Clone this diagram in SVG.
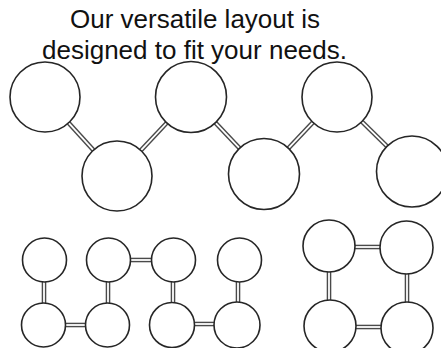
<svg xmlns="http://www.w3.org/2000/svg" width="441" height="348" viewBox="0 0 441 348">
<style>
.node{fill:#fff;stroke:#262626;stroke-width:1.6}
.lo{stroke:#4a4a4a;stroke-width:4.6;stroke-linecap:butt}
.li{stroke:#fff;stroke-width:1.8;stroke-linecap:butt}
.title{font-family:"Liberation Sans",Arial,sans-serif;font-size:26px;fill:#111;text-anchor:middle}
</style>
<rect width="441" height="348" fill="#fff"/>
<g id="connectors">
  <g class="lo">
    <line x1="68.6" y1="122.9" x2="93.4" y2="150.1"/>
    <line x1="140.9" y1="150.4" x2="167.1" y2="122.5"/>
    <line x1="215.1" y1="122.4" x2="239.9" y2="148.6"/>
    <line x1="288.1" y1="148.6" x2="312.9" y2="122.4"/>
    <line x1="361.9" y1="121.6" x2="387.1" y2="146.4"/>
    <line x1="44" y1="281" x2="44" y2="304"/>
    <line x1="64" y1="325" x2="86" y2="325"/>
    <line x1="108" y1="281" x2="108" y2="304"/>
    <line x1="129" y1="260" x2="152" y2="260"/>
    <line x1="173" y1="281" x2="173" y2="304"/>
    <line x1="193" y1="324" x2="216" y2="324"/>
    <line x1="238" y1="281" x2="238" y2="304"/>
    <line x1="354" y1="247" x2="382" y2="247"/>
    <line x1="355" y1="327" x2="382" y2="327"/>
    <line x1="329" y1="271" x2="329" y2="301"/>
    <line x1="407" y1="272" x2="407" y2="303"/>
  </g>
  <g class="li">
    <line x1="68.6" y1="122.9" x2="93.4" y2="150.1"/>
    <line x1="140.9" y1="150.4" x2="167.1" y2="122.5"/>
    <line x1="215.1" y1="122.4" x2="239.9" y2="148.6"/>
    <line x1="288.1" y1="148.6" x2="312.9" y2="122.4"/>
    <line x1="361.9" y1="121.6" x2="387.1" y2="146.4"/>
    <line x1="44" y1="281" x2="44" y2="304"/>
    <line x1="64" y1="325" x2="86" y2="325"/>
    <line x1="108" y1="281" x2="108" y2="304"/>
    <line x1="129" y1="260" x2="152" y2="260"/>
    <line x1="173" y1="281" x2="173" y2="304"/>
    <line x1="193" y1="324" x2="216" y2="324"/>
    <line x1="238" y1="281" x2="238" y2="304"/>
    <line x1="354" y1="247" x2="382" y2="247"/>
    <line x1="355" y1="327" x2="382" y2="327"/>
    <line x1="329" y1="271" x2="329" y2="301"/>
    <line x1="407" y1="272" x2="407" y2="303"/>
  </g>
</g>
<g id="n1"><circle class="node" cx="45" cy="97" r="35"/></g>
<g id="n2"><circle class="node" cx="117" cy="176" r="35"/></g>
<g id="n3"><circle class="node" cx="191" cy="97" r="35.5"/></g>
<g id="n4"><circle class="node" cx="264" cy="174" r="35.5"/></g>
<g id="n5"><circle class="node" cx="337" cy="97" r="35"/></g>
<g id="n6"><circle class="node" cx="412" cy="171.5" r="35.5"/></g>
<g id="a"><circle class="node" cx="44.5" cy="260" r="22"/></g>
<g id="b"><circle class="node" cx="108.5" cy="260" r="22"/></g>
<g id="c"><circle class="node" cx="173.5" cy="260" r="22"/></g>
<g id="d"><circle class="node" cx="239.5" cy="260" r="22"/></g>
<g id="e"><circle class="node" cx="43.5" cy="325" r="22"/></g>
<g id="f"><circle class="node" cx="107.5" cy="325" r="22"/></g>
<g id="g"><circle class="node" cx="172" cy="325" r="22.5"/></g>
<g id="h"><circle class="node" cx="237" cy="325" r="23"/></g>
<g id="i"><circle class="node" cx="329" cy="246" r="26"/></g>
<g id="j"><circle class="node" cx="406.5" cy="247.5" r="26.5"/></g>
<g id="k"><circle class="node" cx="330" cy="326" r="26"/></g>
<g id="l"><circle class="node" cx="407" cy="328" r="26"/></g>
<g id="title">
  <text class="title" x="195" y="28">Our versatile layout is</text>
  <text class="title" x="194.5" y="59">designed to fit your needs.</text>
</g>
</svg>
